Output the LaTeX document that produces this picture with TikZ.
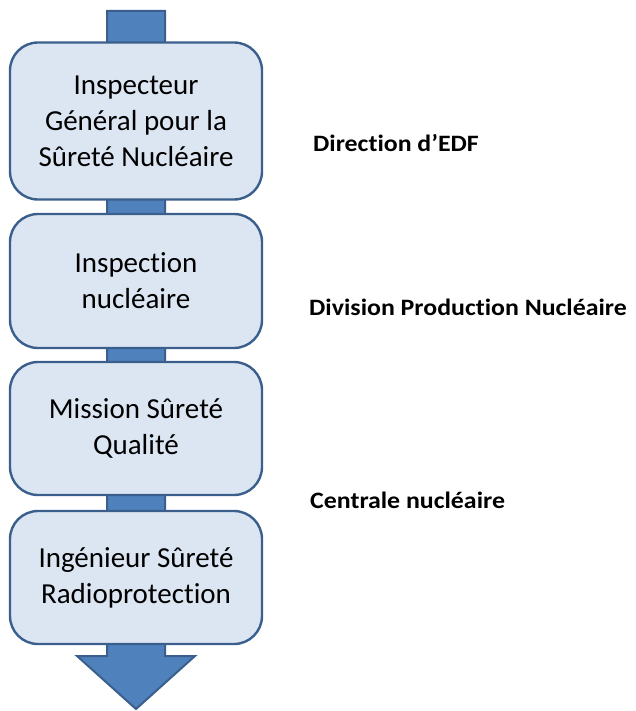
\documentclass[tikz,border=0pt]{standalone}
\usepackage{fontspec}
\setmainfont{Carlito}[Ligatures=CommonOff]
\definecolor{boxfill}{HTML}{DCE6F2}
\definecolor{boxline}{HTML}{3A5F8C}
\definecolor{arrowfill}{HTML}{4F81BD}
\newcommand{\widetext}[1]{\scalebox{1.1}[1]{#1}}
\begin{document}
\begin{tikzpicture}[x=1pt,y=-1pt,
  stage/.style={draw=boxline, line width=2.4pt, fill=boxfill, rounded corners=28pt,
    minimum width=252pt, align=center, inner sep=0pt,
    font=\fontsize{29}{36}\selectfont},
  side/.style={anchor=base west, inner sep=0pt, font=\fontsize{23.5}{28}\selectfont\bfseries}]
\useasboundingbox (0,0) rectangle (635,711);
% big arrow
\draw[draw=boxline, line width=2pt, fill=arrowfill]
  (107,11) -- (165,11) -- (165,656) -- (195,656) -- (136,709) -- (77,656) -- (107,656) -- cycle;
\node[stage, minimum height=157pt] (b1) at (136,121) {Inspecteur\\Général pour la\\Sûreté Nucléaire};
\node[stage, minimum height=134pt] (b2) at (136,281) {Inspection\\nucléaire};
\node[stage, minimum height=133pt] (b3) at (136,428.5) {Mission Sûreté\\Qualité};
\node[stage, minimum height=133pt] (b4) at (136,577.5) {Ingénieur Sûreté\\Radioprotection};
\node[side] (t1) at (313,151.5) {\widetext{Direction d’EDF}};
\node[side] (t2) at (309,315) {\widetext{Division Production Nucléaire}};
\node[side] (t3) at (310,508) {\widetext{Centrale nucléaire}};
\end{tikzpicture}
\end{document}
